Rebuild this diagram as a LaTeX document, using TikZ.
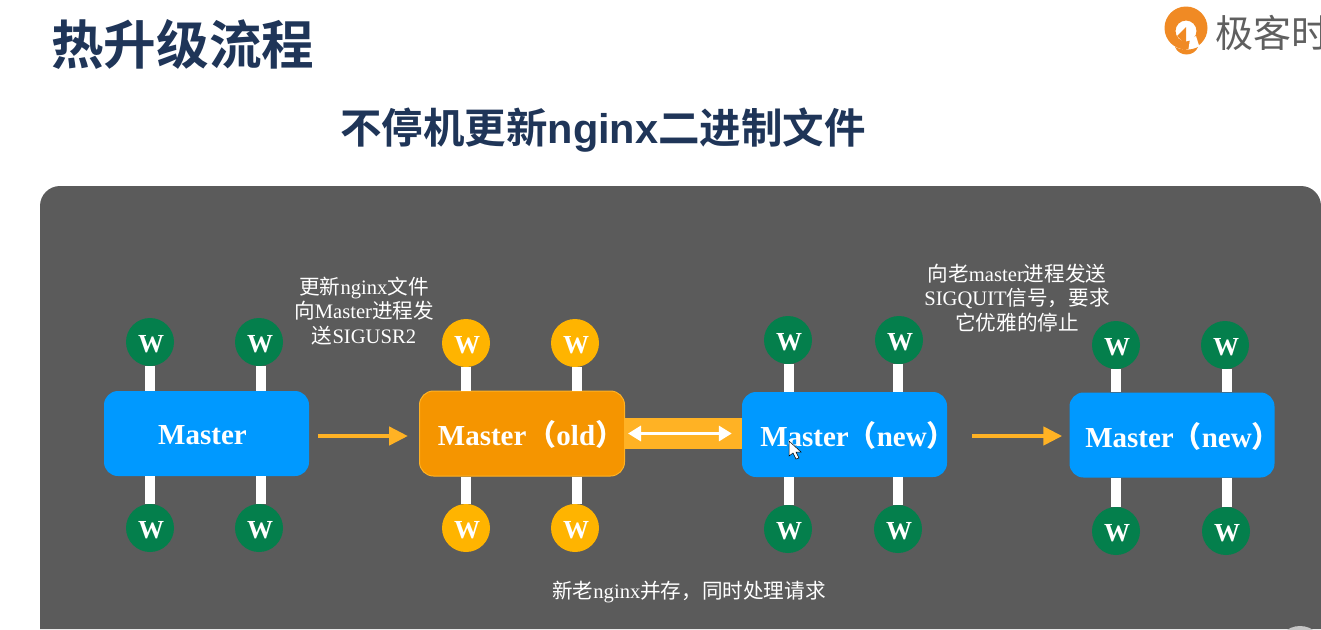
\documentclass[tikz,border=0pt]{standalone}
\usepackage{fontspec}
\setmainfont{Liberation Serif}
\newfontfamily\cjk{Noto Sans CJK SC}
\newfontfamily\cjkb{Noto Sans CJK SC Bold}
\newfontfamily\sansb{Liberation Sans Bold}
\usetikzlibrary{arrows.meta}
\definecolor{panel}{HTML}{5B5B5B}
\definecolor{navy}{HTML}{1F3558}
\definecolor{wgreen}{HTML}{047F4C}
\definecolor{wyellow}{HTML}{FFB400}
\definecolor{mblue}{HTML}{0099FF}
\definecolor{morange}{HTML}{F59500}
\definecolor{flow}{HTML}{FFB224}
\definecolor{logoorange}{HTML}{F08A24}
\definecolor{logogray}{HTML}{5F5F5F}
\tikzset{
  x=1pt,y=-1pt,
  worker/.style={circle,minimum size=48pt,inner sep=0pt,font=\fontsize{26}{26}\selectfont\bfseries,text=white},
  wgreenn/.style={worker,fill=wgreen},
  wyell/.style={worker,fill=wyellow},
  masterbox/.style={rounded corners=14pt,minimum width=205pt,minimum height=85pt,inner sep=0pt,text=white,font=\fontsize{29}{29}\selectfont\bfseries},
  link/.style={draw=white,line width=10pt},
  flowarrow/.style={draw=flow,line width=4.5pt,-{Triangle[length=19pt,width=18pt]}},
  caption/.style={text=white,align=center,font=\fontsize{20.6}{24.5}\selectfont,inner sep=0pt},
}
\newcommand{\zh}[1]{{\cjk #1}}
\newcommand{\mtext}[3]{\raisebox{#2}[0pt][0pt]{\makebox[0pt][c]{\hspace*{#1}#3}}}
\newcommand{\wt}{\raisebox{-10pt}[0pt][0pt]{\hspace*{2pt}W}}
\begin{document}
\begin{tikzpicture}
\useasboundingbox (0,0) rectangle (1321,629);
\clip (0,0) rectangle (1321,629);
\fill[white] (0,0) rectangle (1321,629);
% titles
\node[anchor=west,inner sep=0pt,text=navy,font=\fontsize{52.6}{52.6}\selectfont\cjkb] (title) at (51,44) {热升级流程};
\node[anchor=west,inner sep=0pt,text=navy,font=\fontsize{41.5}{41.5}\selectfont\cjkb] (subtitle) at (340,130) {不停机更新{\sansb nginx}二进制文件};
% logo
\fill[logoorange,even odd rule] (1186,28) circle (21.5pt) (1186,31) circle (10.5pt);
\fill[white] (1190,39) -- (1196,36) -- (1201,52) -- (1188,52) -- cycle;
\fill[logoorange] (1186,27) -- (1186,50) -- (1183,50) -- (1183,42) -- (1177,36) -- cycle;
\fill[logoorange] (1175,47) .. controls (1182,50.5) and (1191,50.5) .. (1198,47) .. controls (1194,57) and (1179,57) .. (1175,47) -- cycle;
\node[anchor=west,inner sep=0pt,text=logogray,font=\fontsize{38}{38}\selectfont\cjk] (logotext) at (1215,33) {极客时};
% panel
\fill[panel] (40,629) -- (40,206) arc[start angle=180,end angle=90,radius=20pt] -- (1301,186) arc[start angle=90,end angle=0,radius=20pt] -- (1321,629) -- cycle;
\fill[gray!45!white] (1300,650) circle (24pt);
% masters
\node[masterbox,fill=mblue] (m1) at (206.5,433.5) {\mtext{-8pt}{-11pt}{Master}};
\node[masterbox,fill=morange,draw=flow,line width=1pt] (m2) at (522,433.5) {\mtext{18pt}{-11.5pt}{Master\hspace{1pt}\zh{（}old\zh{）}}};
\node[masterbox,fill=mblue] (m3) at (844.5,434.5) {\mtext{27pt}{-11.5pt}{Master\hspace{-1pt}\zh{（}new\zh{）}}};
\node[masterbox,fill=mblue] (m4) at (1172,435) {\mtext{22pt}{-12pt}{Master\hspace{-1pt}\zh{（}new\zh{）}}};
% workers
\node[wgreenn] (a1) at (150,342) {\wt};
\node[wgreenn] (a2) at (259,342) {\wt};
\node[wgreenn] (a3) at (150,528) {\wt};
\node[wgreenn] (a4) at (259,528) {\wt};
\node[wyell] (b1) at (466,343) {\wt};
\node[wyell] (b2) at (575,343) {\wt};
\node[wyell] (b3) at (466,528) {\wt};
\node[wyell] (b4) at (575,528) {\wt};
\node[wgreenn] (c1) at (788,340) {\wt};
\node[wgreenn] (c2) at (899,340) {\wt};
\node[wgreenn] (c3) at (788,529) {\wt};
\node[wgreenn] (c4) at (898,529) {\wt};
\node[wgreenn] (d1) at (1116,345) {\wt};
\node[wgreenn] (d2) at (1225,345) {\wt};
\node[wgreenn] (d3) at (1116,531) {\wt};
\node[wgreenn] (d4) at (1226,531) {\wt};
% links
\foreach \w/\m/\dx in {a1/m1/0,a2/m1/2,b1/m2/0,b2/m2/2,c1/m3/1,c2/m3/-1,d1/m4/0,d2/m4/2}{
  \draw[link] ([xshift=\dx pt]\w.south) -- ([xshift=\dx pt]\w.south |- \m.north);
}
\foreach \w/\m/\dx in {a3/m1/0,a4/m1/2,b3/m2/0,b4/m2/2,c3/m3/1,c4/m3/0,d3/m4/0,d4/m4/1}{
  \draw[link] ([xshift=\dx pt]\w.north) -- ([xshift=\dx pt]\w.north |- \m.south);
}
% band and arrows
\coordinate (bandL) at (m2.east |- 0,433.5);
\coordinate (bandR) at (m3.west |- 0,433.5);
\draw[flow,line width=31pt] (bandL) -- (bandR);
\draw[white,line width=3.5pt,{Triangle[length=13pt,width=15pt]}-{Triangle[length=13pt,width=15pt]}] ([xshift=3pt]bandL) -- ([xshift=-10pt]bandR);
\draw[flowarrow] ([xshift=9pt,yshift=-2.5pt]m1.east) -- ([xshift=-11pt,yshift=-2.5pt]m2.west);
\draw[flowarrow] ([xshift=25pt,yshift=-1.5pt]m3.east) -- ([xshift=-7pt,yshift=-1pt]m4.west);
% captions
\node[caption] (cap1) at (364,311) {\zh{更新}nginx\zh{文件}\\\zh{向}Master\zh{进程发}\\\zh{送}SIGUSR2};
\node[caption] (cap2) at (1017,298) {\zh{向老}master\zh{进程发送}\\SIGQUIT\zh{信号，要求}\\\zh{它优雅的停止}};
\node[caption] (cap3) at (689,592) {\zh{新老}nginx\zh{并存，同时处理请求}};
% mouse cursor
\draw[black,fill=white,line width=0.5pt] (789,441) -- (789,456) -- (793,453) -- (796,459) -- (799,458) -- (796,452) -- (801,452) -- cycle;
\end{tikzpicture}
\end{document}
